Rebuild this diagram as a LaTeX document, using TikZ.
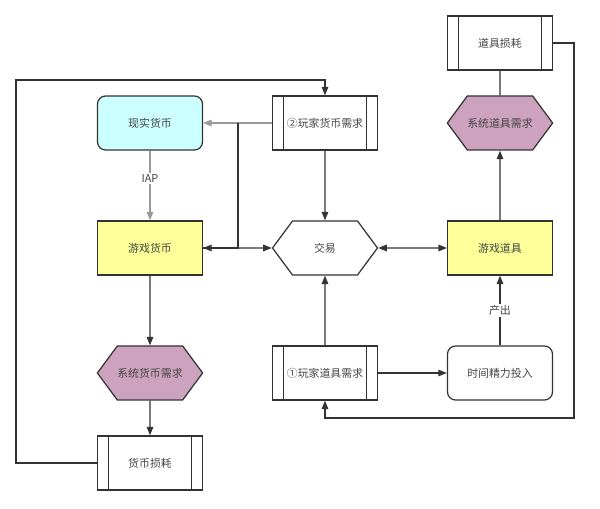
\documentclass[tikz,border=0pt]{standalone}
\usepackage{fontspec}
\setmainfont{Noto Sans CJK SC}
\usetikzlibrary{arrows.meta,shapes.symbols}

\definecolor{linegray}{HTML}{333333}
\definecolor{softgray}{HTML}{999999}
\definecolor{textgray}{HTML}{444444}
\definecolor{realfill}{HTML}{CCFFFF}
\definecolor{gamefill}{HTML}{FFFF99}
\definecolor{sysfill}{HTML}{CDA2BE}

\tikzset{
  box/.style={draw=linegray, line width=0.7pt, minimum width=2.1cm, minimum height=1.08cm,
    inner sep=1pt, text=textgray, font=\fontsize{6.2}{8}\selectfont},
  roundbox/.style={box, rounded corners=0.16cm},
  procbox/.style={box, path picture={
      \draw[linegray, line width=0.7pt]
        ([xshift=0.22cm]path picture bounding box.north west) -- ([xshift=0.22cm]path picture bounding box.south west)
        ([xshift=-0.22cm]path picture bounding box.north east) -- ([xshift=-0.22cm]path picture bounding box.south east);}},
  hexbox/.style={box, shape=signal, signal to=east and west, signal pointer angle=107, inner xsep=0pt},
  tip/.tip={Triangle[length=0.17cm, width=0.13cm]},
  line/.style={draw=linegray, line width=0.7pt},
  link/.style={line, -tip},
  softlink/.style={draw=softgray, line width=0.7pt, -tip},
  lbl/.style={fill=white, inner sep=1pt, font=\fontsize{6.2}{8}\selectfont}
}

\begin{document}
\begin{tikzpicture}[x=0.02cm, y=-0.02cm]
  \useasboundingbox (0,0) rectangle (600,509);

  % left column: money
  \node[roundbox, fill=realfill] (real) at (150,123) {现实货币};
  \node[box, fill=gamefill] (gamecoin) at (150,248) {游戏货币};
  \node[hexbox, fill=sysfill] (syscoin) at (150,373) {系统货币需求};
  \node[procbox] (coinloss) at (150,463) {货币损耗};

  % middle column
  \node[procbox] (demand2) at (325,123) {②玩家货币需求};
  \node[hexbox] (trade) at (325,248) {交易};
  \node[procbox] (demand1) at (325,373) {①玩家道具需求};

  % right column: items
  \node[procbox] (itemloss) at (500,43) {道具损耗};
  \node[hexbox, fill=sysfill] (sysitem) at (500,123) {系统道具需求};
  \node[box, fill=gamefill] (gameitem) at (500,248) {游戏道具};
  \node[roundbox] (effort) at (500,373) {时间精力投入};

  % turning points
  \coordinate (split) at (238,123);
  \coordinate (lefttop) at (16,80);
  \coordinate (rightbottom) at (574,418);

  % connectors
  \draw[softlink] (real) -- node[lbl, text=textgray, pos=0.4] {IAP} (gamecoin);
  \draw[softlink] (demand2) -- (real);
  \draw[line] (split) |- (gamecoin.east);
  \draw[line, tip-tip] (gamecoin) -- (trade);
  \draw[link] (gamecoin) -- (syscoin);
  \draw[link] (syscoin) -- (coinloss);
  \draw[link] (coinloss.west) -| (lefttop) -| (demand2.north);
  \draw[link] (demand2) -- (trade);
  \draw[line, tip-tip] (trade) -- (gameitem);
  \draw[link] (demand1) -- (trade);
  \draw[link] (demand1) -- (effort);
  \draw[link] (effort) -- node[lbl, text=textgray] {产出} (gameitem);
  \draw[link] (gameitem) -- (sysitem);
  \draw[line] (sysitem) -- (itemloss);
  \draw[link] (itemloss.east) -| (rightbottom) -| (demand1.south);
\end{tikzpicture}
\end{document}
